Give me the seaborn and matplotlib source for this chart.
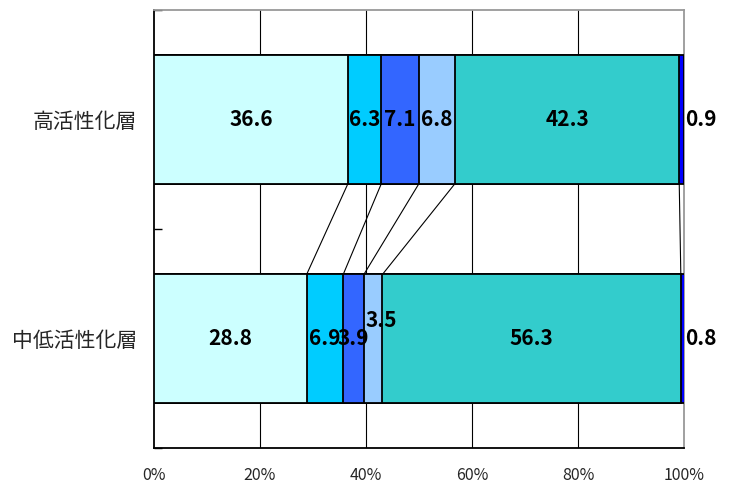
import matplotlib
matplotlib.use("Agg")
import matplotlib.pyplot as plt
import seaborn as sns
import numpy as np
import pandas as pd

categories = ["高活性化層", "中低活性化層"]
segment_names = ["s1", "s2", "s3", "s4", "s5", "s6"]
values_high = [36.6, 6.3, 7.1, 6.8, 42.3, 0.9]
values_low = [28.8, 6.9, 3.9, 3.5, 56.3, 0.8]
colors = ["#CCFFFF", "#00CCFF", "#3366FF", "#99CCFF", "#33CCCC", "#0000FF"]
xtick_labels = ["0%", "20%", "40%", "60%", "80%", "100%"]

sns.set_style("white")
plt.rcParams["font.family"] = ["Noto Sans CJK JP", "DejaVu Sans"]

fig = plt.figure(figsize=(7.34, 4.83), dpi=100)
ax = fig.add_axes([154 / 734, 1 - 448 / 483, 530 / 734, 438 / 483])

series = [values_high, values_low]
cum = [np.cumsum(v) for v in series]
bar_w = 0.585

# stacked bars: draw cumulative totals from the last segment to the first
for i in range(len(segment_names) - 1, -1, -1):
    df = pd.DataFrame({"cat": categories, "val": [cum[0][i], cum[1][i]]})
    sns.barplot(data=df, y="cat", x="val", orient="y", color=colors[i],
                width=bar_w, edgecolor="black", linewidth=1.3,
                saturation=1, ax=ax, zorder=3)

ax.set_xlim(0, 100)
ax.set_ylim(1.5, -0.5)

# grid lines
for gx in [20, 40, 60, 80]:
    ax.axvline(gx, color="black", lw=0.8, zorder=1)

# series connector lines
for i in range(len(segment_names) - 1):
    ax.plot([cum[0][i], cum[1][i]], [bar_w / 2, 1 - bar_w / 2],
            color="black", lw=0.8, zorder=2)

# value labels
for r, vals in enumerate(series):
    starts = np.concatenate([[0], cum[r][:-1]])
    for i, v in enumerate(vals):
        xc = starts[i] + v / 2
        yc = r
        if i == len(vals) - 1:
            xc = 100.2
            ha = "left"
        else:
            ha = "center"
        if r == 1 and i == 3:
            yc = r - 0.08
            xc += 1.6
        ax.text(xc, yc, f"{v:.1f}", ha=ha, va="center", fontsize=15,
                fontweight="bold", color="black", zorder=5, clip_on=False)

ax.set_xticks([0, 20, 40, 60, 80, 100])
ax.set_xticklabels(xtick_labels, fontsize=11.5)
ax.tick_params(axis="x", length=0, pad=14)
ax.set_yticks([0, 1])
ax.set_yticklabels(categories, fontsize=15)
ax.tick_params(axis="y", which="major", length=0, pad=12)
ax.set_yticks([-0.5, 0.5, 1.5], minor=True)
ax.tick_params(axis="y", which="minor", direction="in", length=6,
               width=1, color="black", left=True)
ax.set_xlabel("")
ax.set_ylabel("")

for s in ["left", "bottom"]:
    ax.spines[s].set_color("black")
    ax.spines[s].set_linewidth(1.3)
for s in ["top", "right"]:
    ax.spines[s].set_color("#999999")
    ax.spines[s].set_linewidth(1.3)

fig.savefig("out.png", dpi=100)
